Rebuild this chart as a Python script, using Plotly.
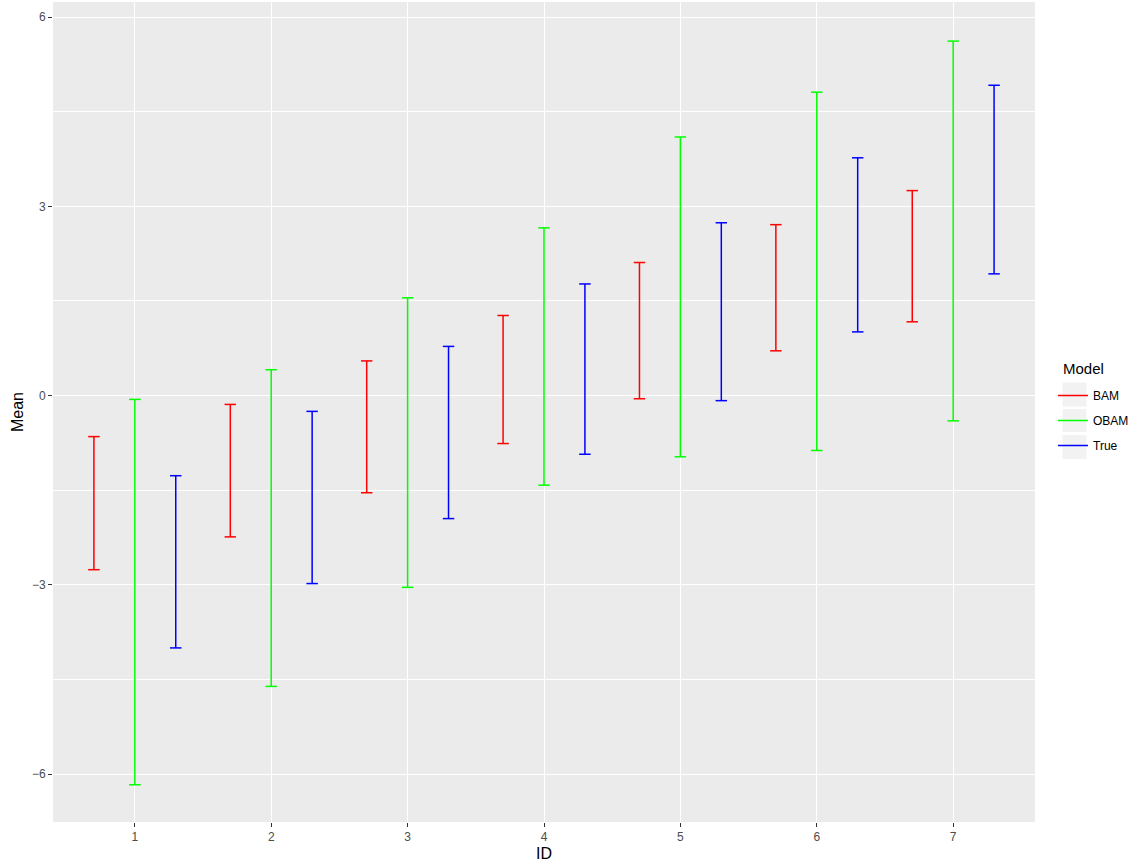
import plotly.graph_objects as go

ids = [1, 2, 3, 4, 5, 6, 7]
models = ["BAM", "OBAM", "True"]
bam_lo = [-2.76, -2.24, -1.54, -0.76, -0.05, 0.71, 1.17]
bam_hi = [-0.65, -0.14, 0.55, 1.27, 2.11, 2.71, 3.25]
obam_lo = [-6.17, -4.61, -3.04, -1.42, -0.97, -0.87, -0.40]
obam_hi = [-0.06, 0.41, 1.55, 2.66, 4.10, 4.81, 5.62]
true_lo = [-4.00, -2.98, -1.95, -0.93, -0.08, 1.01, 1.93]
true_hi = [-1.27, -0.25, 0.78, 1.77, 2.74, 3.77, 4.92]

lows = {"BAM": bam_lo, "OBAM": obam_lo, "True": true_lo}
highs = {"BAM": bam_hi, "OBAM": obam_hi, "True": true_hi}
colors = {"BAM": "#ff0000", "OBAM": "#00ff00", "True": "#0000ff"}
offsets = {"BAM": -0.3, "OBAM": 0.0, "True": 0.3}
cap = 0.042

fig = go.Figure()
for m in models:
    xs, ys = [], []
    for i, lo, hi in zip(ids, lows[m], highs[m]):
        xc = i + offsets[m]
        xs += [xc, xc, None, xc - cap, xc + cap, None, xc - cap, xc + cap, None]
        ys += [lo, hi, None, lo, lo, None, hi, hi, None]
    fig.add_trace(go.Scatter(x=xs, y=ys, mode="lines", name=m, legendgroup=m,
                             line=dict(color=colors[m], width=1.5),
                             hoverinfo="skip"))

L, R, T, B = 53, 100, 2, 41
W, H = 1135, 863
pw, ph = W - L - R, H - T - B

def px_x(p):
    return (p - L) / pw

def px_y(p):
    return (H - B - p) / ph

shapes = []
for y0, y1 in [(382.5, 406.5), (409, 432), (435, 459)]:
    shapes.append(dict(type="rect", xref="paper", yref="paper",
                       x0=px_x(1062.5), x1=px_x(1086.5), y0=px_y(y1), y1=px_y(y0),
                       fillcolor="#f2f2f2", line=dict(width=0), layer="below"))

fig.update_layout(
    width=W, height=H,
    margin=dict(l=L, r=R, t=T, b=B, pad=0, autoexpand=False),
    paper_bgcolor="white", plot_bgcolor="#ebebeb",
    font=dict(family="Liberation Sans, Arial, sans-serif", color="#000000"),
    shapes=shapes,
    annotations=[dict(text="Model", xref="paper", yref="paper",
                      x=px_x(1061), y=px_y(369), xanchor="left", yanchor="middle",
                      showarrow=False, font=dict(size=15, color="#000000"))],
    legend=dict(font=dict(size=12), x=px_x(1053), xanchor="left",
                y=px_y(381), yanchor="top", tracegroupgap=6,
                itemwidth=30, bgcolor="rgba(0,0,0,0)"),
    showlegend=True,
)
fig.update_xaxes(range=[0.4, 7.6], tickvals=ids, ticktext=[str(i) for i in ids],
                 showgrid=True, gridcolor="white", gridwidth=1.4, zeroline=False,
                 ticks="outside", ticklen=4, tickcolor="#333333", tickwidth=1.2,
                 tickfont=dict(size=12, color="#4d4d4d"), automargin=False,
                 title=dict(text="ID", font=dict(size=16), standoff=4),
                 showline=False)
fig.update_yaxes(range=[-6.76, 6.24], tickvals=[-6, -3, 0, 3, 6],
                 ticktext=["\u22126", "\u22123", "0", "3", "6"],
                 showgrid=True, gridcolor="white", gridwidth=1.4, zeroline=False,
                 minor=dict(tickvals=[-4.5, -1.5, 1.5, 4.5], showgrid=True,
                            gridcolor="white", gridwidth=0.7, ticks=""),
                 ticks="outside", ticklen=4, tickcolor="#333333", tickwidth=1.2,
                 tickfont=dict(size=12, color="#4d4d4d"), automargin=False,
                 title=dict(text="Mean", font=dict(size=16), standoff=4),
                 showline=False)

fig.write_html("out.html", config={"displayModeBar": False},
               post_script="document.body.style.margin='0';document.body.style.overflow='hidden';")
